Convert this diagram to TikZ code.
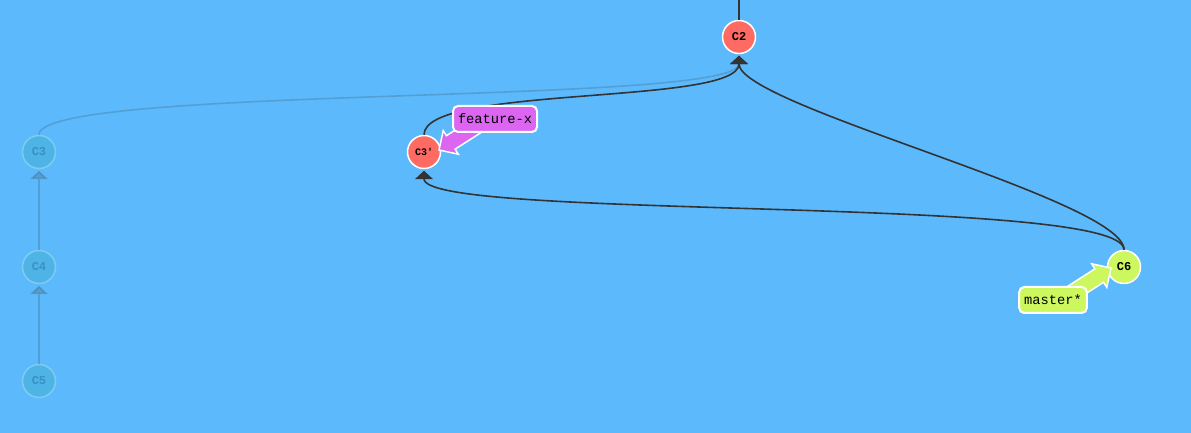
\documentclass[tikz,border=0pt]{standalone}
\usepackage{fontspec}
\newfontfamily\gitmono{Liberation Mono}
\usepackage{tikz}
\usetikzlibrary{arrows.meta}
\definecolor{bgblue}{HTML}{5CBAFC}
\definecolor{commitred}{HTML}{FF6B63}
\definecolor{commitlime}{HTML}{CCF75F}
\definecolor{branchmag}{HTML}{DC66F2}
\definecolor{edgegray}{HTML}{333333}
\definecolor{ghostfill}{HTML}{4EB4E6}
\definecolor{ghostdraw}{HTML}{80CBF4}
\definecolor{ghosttext}{HTML}{3A90C6}

\tikzset{
  commit/.style={circle, draw=white, line width=1.5pt, minimum size=33pt, inner sep=0pt,
    font=\gitmono\bfseries\fontsize{12}{14}\selectfont},
  ghost/.style={commit, fill=ghostfill, draw=ghostdraw, text=ghosttext},
  edge/.style={draw=edgegray, line width=1.6pt, -{Triangle[width=18pt,length=8.5pt]}},
  ghostedge/.style={edge, draw opacity=0.2, fill opacity=0.2},
  branch/.style={rounded corners=5pt, draw=white, line width=2pt, inner xsep=5pt,
    minimum height=26pt, font=\gitmono\fontsize{13.7}{16}\selectfont},
  branchmark/.style={draw=white, line width=1.5pt, line join=miter}
}

\begin{document}
\begin{tikzpicture}[x=1pt,y=1pt]
\fill[bgblue] (0,0) rectangle (1191,433);
\useasboundingbox (0,0) rectangle (1191,433);

% commits
\node[commit, fill=commitred] (c2) at (739,396) {C2};
\node[commit, fill=commitred, font=\gitmono\bfseries\fontsize{10}{11}\selectfont] (c3p) at (424,281) {C3'};
\node[commit, fill=commitlime] (c6) at (1124,166) {C6};
\node[ghost] (c3) at (39,281) {C3};
\node[ghost] (c4) at (39,166) {C4};
\node[ghost] (c5) at (39,52) {C5};
\coordinate (c2up) at (739,433);

% parent links
\draw[draw=edgegray, line width=1.6pt] (c2.north) -- (c2up);
\draw[edge] (c3p.north) .. controls +(0,50) and +(0,-50) .. ([yshift=-1.5pt]c2.south);
\draw[edge] (c6.north) .. controls +(0,50) and +(0,-50) .. ([yshift=-1.5pt]c2.south);
\draw[edge] (c6.north) .. controls +(0,55) and +(0,-50) .. ([yshift=-1.5pt]c3p.south);
\draw[ghostedge] (c3.north) .. controls +(0,50) and +(0,-50) .. ([yshift=-1.5pt]c2.south);
\draw[ghostedge] (c4.north) -- ([yshift=-1.5pt]c3.south);
\draw[ghostedge] (c5.north) -- ([yshift=-1.5pt]c4.south);

% branch pointers
\coordinate (fxtip) at (439,283);
\coordinate (mstip) at (1111,165);
\draw[branchmark, fill=branchmag, shift={(fxtip)}, rotate=32.7]
  (0,0) -- (14,14) -- (14,8) -- (63,8) -- (63,-8) -- (14,-8) -- (14,-14) -- cycle;
\draw[branchmark, fill=commitlime, shift={(mstip)}, rotate=212.7]
  (0,0) -- (14,14) -- (14,8) -- (63,8) -- (63,-8) -- (14,-8) -- (14,-14) -- cycle;
\node[branch, fill=branchmag] (featx) at (495,314) {feature-x};
\node[branch, fill=commitlime] (master) at (1053,133) {master*};
\end{tikzpicture}
\end{document}
